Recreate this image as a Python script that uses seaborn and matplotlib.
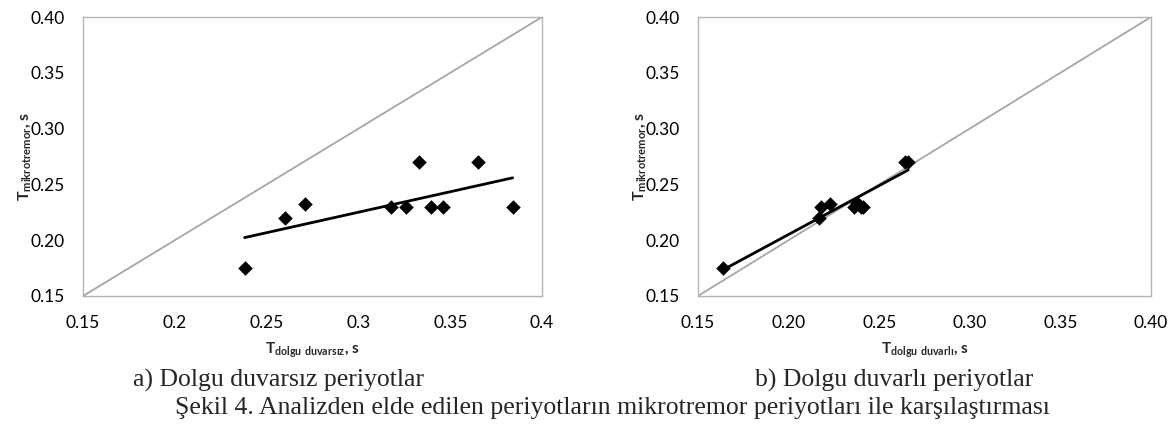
import numpy as np
import pandas as pd
import seaborn as sns
import matplotlib
matplotlib.use("Agg")
import matplotlib.pyplot as plt

# data
# a) periods without infill walls vs microtremor periods
t_duvarsiz = [0.238, 0.260, 0.271, 0.318, 0.326, 0.333, 0.3395, 0.346, 0.365, 0.384]
t_mikro_a = [0.175, 0.220, 0.232, 0.230, 0.230, 0.270, 0.230, 0.230, 0.270, 0.230]
# b) periods with infill walls vs microtremor periods
t_duvarli = [0.164, 0.217, 0.218, 0.223, 0.236, 0.238, 0.240, 0.241, 0.264, 0.266]
t_mikro_b = [0.175, 0.220, 0.230, 0.232, 0.230, 0.233, 0.230, 0.230, 0.270, 0.270]

limits = [0.15, 0.40]
ticks = [0.15, 0.20, 0.25, 0.30, 0.35, 0.40]
xlabels_a = ["0.15", "0.2", "0.25", "0.3", "0.35", "0.4"]
labels_2d = ["0.15", "0.20", "0.25", "0.30", "0.35", "0.40"]

df_a = pd.DataFrame({"x": t_duvarsiz, "y": t_mikro_a})
df_b = pd.DataFrame({"x": t_duvarli, "y": t_mikro_b})

sns.set_theme(style="white")
plt.rcParams["font.family"] = ["Lato", "DejaVu Sans"]
plt.rcParams["mathtext.fontset"] = "custom"
plt.rcParams["mathtext.rm"] = "Lato"
plt.rcParams["mathtext.bf"] = "Lato:bold"

fig = plt.figure(figsize=(11.74, 4.33), dpi=100)
ax1 = fig.add_axes([0.0707, 0.3164, 0.391, 0.6443])
ax2 = fig.add_axes([0.5945, 0.3164, 0.3859, 0.6443])

panels = [
    (ax1, df_a, xlabels_a, r"$\mathbf{T_{dolgu\ duvarsız}}$, s"),
    (ax2, df_b, labels_2d, r"$\mathbf{T_{dolgu\ duvarlı}}$, s"),
]

for ax, df, xl, xlab in panels:
    # 1:1 line
    ax.plot(limits, limits, color="#a6a6a6", lw=1.3, zorder=1)
    sns.regplot(data=df, x="x", y="y", ax=ax, ci=None, marker="D",
                scatter_kws={"s": 55, "color": "black", "alpha": 1,
                             "linewidths": 0, "zorder": 3},
                line_kws={"color": "black", "lw": 2.0, "zorder": 4})
    ax.set_xlim(limits)
    ax.set_ylim(limits)
    ax.set_xticks(ticks)
    ax.set_xticklabels(xl)
    ax.set_yticks(ticks)
    ax.set_yticklabels(labels_2d)
    ax.tick_params(length=0, labelsize=12.5, colors="black")
    ax.tick_params(axis="x", pad=14)
    ax.tick_params(axis="y", pad=13)
    for sp in ax.spines.values():
        sp.set_color("#b4b4b4")
        sp.set_linewidth(1.0)
    ax.set_xlabel(xlab, fontsize=11, fontweight="bold", labelpad=7)
    ax.set_ylabel(r"$\mathbf{T_{mikrotremor}}$, s", fontsize=11.5, fontweight="bold", labelpad=-2)

serif = ["Liberation Serif", "DejaVu Serif"]
fig.text(0.237, 0.122, "a) Dolgu duvarsız periyotlar", fontsize=18.5, family=serif,
         ha="center", va="center")
fig.text(0.762, 0.122, "b) Dolgu duvarlı periyotlar", fontsize=18.5, family=serif,
         ha="center", va="center")
fig.text(0.522, 0.058,
         "Şekil 4. Analizden elde edilen periyotların mikrotremor periyotları ile karşılaştırması",
         fontsize=18.5, family=serif, ha="center", va="center")

fig.savefig("out.png", dpi=100)
